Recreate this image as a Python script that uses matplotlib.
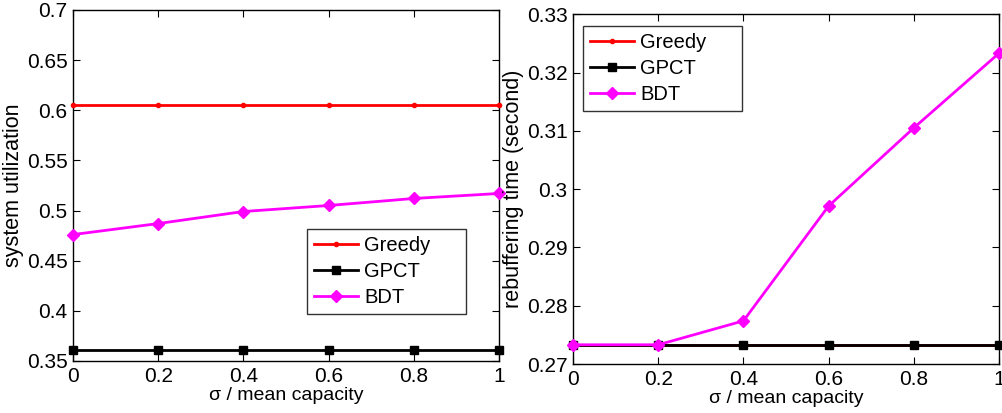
import numpy as np
import matplotlib.pyplot as plt

plt.rcParams['font.family'] = ['Liberation Sans', 'DejaVu Sans']

x = [0, 0.2, 0.4, 0.6, 0.8, 1.0]

# left: system utilization
util_greedy = [0.605, 0.605, 0.605, 0.605, 0.605, 0.605]
util_gpct = [0.361, 0.361, 0.361, 0.361, 0.361, 0.361]
util_bdt = [0.476, 0.487, 0.499, 0.505, 0.512, 0.517]

# right: rebuffering time
rebuf_greedy = [0.2733, 0.2733, 0.2733, 0.2733, 0.2733, 0.2733]
rebuf_gpct = [0.2733, 0.2733, 0.2733, 0.2733, 0.2733, 0.2733]
rebuf_bdt = [0.2733, 0.2733, 0.2774, 0.2971, 0.3105, 0.3233]

labels = ['Greedy', 'GPCT', 'BDT']

fig = plt.figure(figsize=(10.03, 4.13), dpi=100)
ax1 = fig.add_axes([0.0728, 0.126, 0.4247, 0.850])
ax2 = fig.add_axes([0.5713, 0.1186, 0.4247, 0.847])


def draw(ax, g, p, b):
    ax.plot(x, g, color='red', lw=2, marker='.', ms=6, label=labels[0] + '     ', clip_on=False, zorder=3)
    ax.plot(x, p, color='black', lw=2, marker='s', ms=6, label=labels[1], clip_on=False, zorder=4)
    ax.plot(x, b, color='magenta', lw=2, marker='D', ms=6, label=labels[2], clip_on=False, zorder=5)
    ax.set_xlim(0, 1)
    ax.set_xticks(x)
    ax.set_xticklabels(['0', '0.2', '0.4', '0.6', '0.8', '1'])
    ax.tick_params(direction='in', top=True, right=True, labelsize=15, length=5, pad=4)
    ax.set_xlabel('σ / mean capacity', fontsize=14, labelpad=1)
    for s in ax.spines.values():
        s.set_linewidth(1.0)


def legend(ax, anchor):
    leg = ax.legend(loc='upper left', bbox_to_anchor=anchor, fontsize=14.5, frameon=True,
                    fancybox=False, edgecolor='black', handlelength=2.2, borderpad=0.35,
                    labelspacing=0.35, handletextpad=0.3, borderaxespad=0)
    leg.get_frame().set_linewidth(1.0)
    return leg


draw(ax1, util_greedy, util_gpct, util_bdt)
ax1.set_ylim(0.35, 0.7)
ax1.set_yticks([0.35, 0.4, 0.45, 0.5, 0.55, 0.6, 0.65, 0.7])
ax1.set_yticklabels(['0.35', '0.4', '0.45', '0.5', '0.55', '0.6', '0.65', '0.7'])
ax1.set_ylabel('system utilization', fontsize=15.5, labelpad=2)
legend(ax1, (0.549, 0.376))

draw(ax2, rebuf_greedy, rebuf_gpct, rebuf_bdt)
ax2.set_ylim(0.27, 0.33)
ax2.set_yticks([0.27, 0.28, 0.29, 0.3, 0.31, 0.32, 0.33])
ax2.set_yticklabels(['0.27', '0.28', '0.29', '0.3', '0.31', '0.32', '0.33'])
ax2.set_ylabel('rebuffering time (second)', fontsize=15.5, labelpad=2)
legend(ax2, (0.023, 0.966))

fig.savefig('out.png', dpi=100)
